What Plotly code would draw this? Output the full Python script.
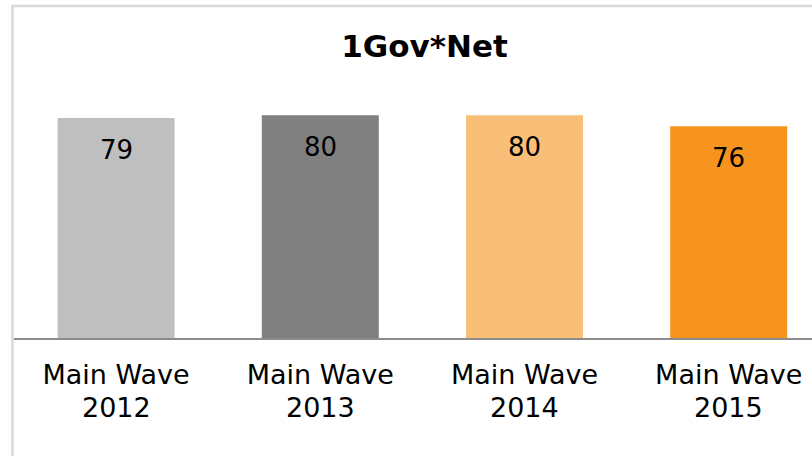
import plotly.graph_objects as go

wave_labels = ["Main Wave", "Main Wave", "Main Wave", "Main Wave"]
years = ["2012", "2013", "2014", "2015"]
values = [79, 80, 80, 76]
bar_colors = ["#BFBFBF", "#808080", "#F9BE78", "#F7941E"]

W, H = 812, 456
L, T, B = 14, 60, 118
plot_w = W - L
plot_h = H - T - B
cat_px = 204.2      # horizontal pixels per category
unit_px = 2.785     # vertical pixels per value unit
label_font = dict(family="DejaVu Sans", size=27, color="#000000")

fig = go.Figure()
fig.add_trace(go.Bar(
    x=list(range(len(values))),
    y=values,
    marker=dict(color=bar_colors, line=dict(width=0)),
    hoverinfo="skip",
))

# value labels inside the bars, near the top
for i, v in enumerate(values):
    fig.add_annotation(
        x=i, y=v, text=str(v), showarrow=False,
        yanchor="top", yshift=-15,
        font=dict(family="DejaVu Sans", size=26, color="#000000"),
    )

# second line of the category labels (year), set tighter than default line spacing
for i, yr in enumerate(years):
    fig.add_annotation(
        x=i, xref="x", y=0, yref="paper", text=yr, showarrow=False,
        yanchor="top", yshift=-52, font=label_font,
    )

# light frame around the chart
fig.add_shape(
    type="rect", xref="paper", yref="paper",
    x0=-1.5 / plot_w, x1=1.05, y0=-0.6, y1=(T + plot_h - 6) / plot_h,
    line=dict(color="#D9D9D9", width=2.5), fillcolor="rgba(0,0,0,0)", layer="below",
)

fig.update_layout(
    width=W, height=H,
    margin=dict(l=L, r=0, t=T, b=B, pad=0),
    paper_bgcolor="#FFFFFF", plot_bgcolor="#FFFFFF",
    showlegend=False,
    bargap=1 - 117 / cat_px,
    title=dict(
        text="<b>1Gov*Net</b>", x=424.5 / W, xanchor="center",
        y=1 - 46 / H, yanchor="middle",
        font=dict(family="DejaVu Sans", size=31, color="#000000"),
    ),
    xaxis=dict(
        range=[-0.5, -0.5 + plot_w / cat_px],
        tickmode="array", tickvals=list(range(len(wave_labels))), ticktext=wave_labels,
        ticks="outside", ticklen=12, tickcolor="rgba(0,0,0,0)",
        showline=True, linecolor="#8C8C8C", linewidth=2,
        showgrid=False, zeroline=False,
        tickfont=label_font,
    ),
    yaxis=dict(
        range=[0, plot_h / unit_px],
        visible=False, showgrid=False, zeroline=False,
    ),
)

fig.write_html("out.html")
